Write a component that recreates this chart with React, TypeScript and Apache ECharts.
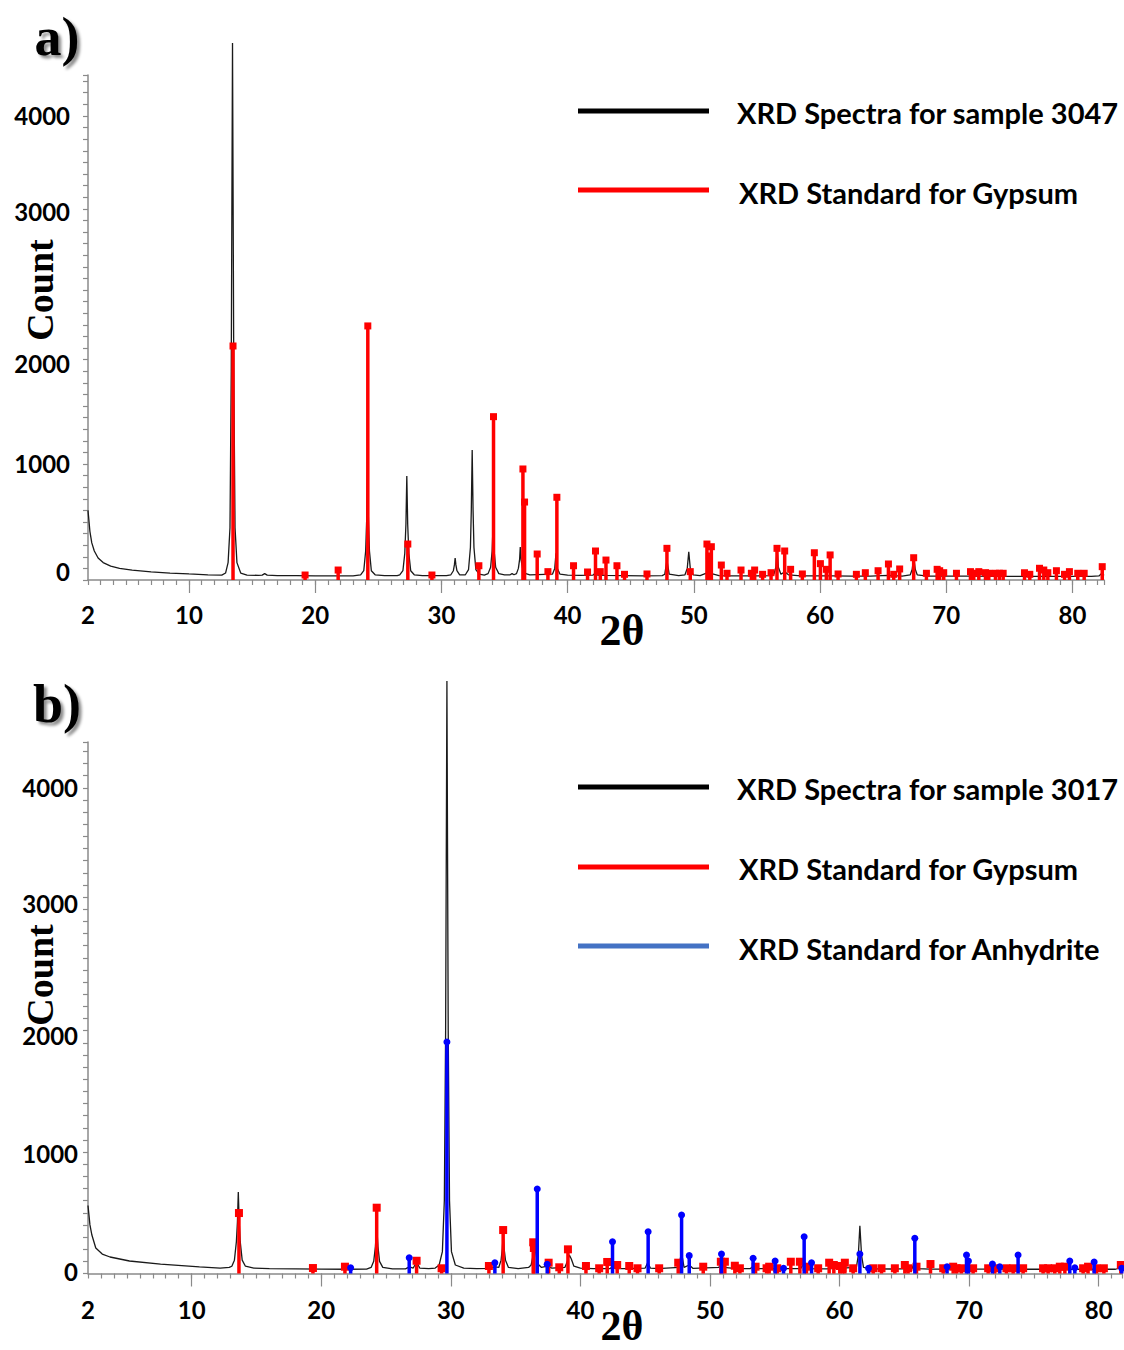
import React, { useEffect, useRef } from "react";
import * as echarts from "echarts";

type P = [number, number];

// ---- axis labels ----
const X_LABELS = [2, 10, 20, 30, 40, 50, 60, 70, 80];
const X_MAJOR = [10, 20, 30, 40, 50, 60, 70, 80];
const Y_LABELS = [0, 1000, 2000, 3000, 4000];

// ---- panel a) ----
const sampleA: P[] = [
  [2.0, 600], [2.15, 420], [2.3, 320], [2.5, 250], [2.8, 190], [3.2, 150], [3.8, 120], [4.5, 100], [5.5, 85], [7, 70], [8.5, 60], [10, 52], [11.5, 45], [12.6, 42],
  [12.9, 60], [13.1, 150], [13.25, 450], [13.35, 1800], [13.45, 4629], [13.55, 1800], [13.65, 450], [13.8, 150], [14.1, 60], [14.6, 42],
  [15.5, 40], [15.8, 42], [16.0, 55], [16.2, 42], [17, 38], [18.5, 37], [20, 36], [21.5, 36], [23, 36],
  [23.6, 45], [23.85, 80], [24.0, 250], [24.08, 520], [24.15, 950], [24.22, 520], [24.3, 250], [24.45, 80], [24.75, 45],
  [25.5, 38], [26.5, 38],
  [26.7, 45], [26.95, 80], [27.1, 230], [27.19, 480], [27.26, 897], [27.33, 480], [27.42, 230], [27.57, 80], [27.85, 45],
  [28.5, 38], [29.5, 37], [30.4, 38],
  [30.75, 45], [30.95, 80], [31.03, 130], [31.09, 190], [31.15, 130], [31.23, 80], [31.45, 45],
  [31.9, 45], [32.15, 90], [32.3, 280], [32.37, 600], [32.44, 1121], [32.51, 600], [32.58, 280], [32.73, 90], [33.0, 50], [33.4, 42],
  [33.7, 55], [33.9, 110], [34.02, 250], [34.1, 490], [34.18, 250], [34.3, 110], [34.55, 55],
  [35.0, 45], [35.45, 45], [35.6, 55], [35.75, 45],
  [35.95, 55], [36.1, 100], [36.2, 180], [36.25, 284], [36.32, 170], [36.45, 90], [36.7, 55], [37.0, 45],
  [38.8, 50], [38.98, 100], [39.08, 230], [39.18, 100], [39.4, 50],
  [40, 42], [41, 40], [42.0, 42], [42.2, 60], [42.4, 42], [43, 40], [44.5, 38], [46, 36], [47.5, 38],
  [47.7, 50], [47.87, 170], [48.05, 50], [48.8, 38],
  [49.3, 45], [49.48, 100], [49.6, 244], [49.72, 100], [49.95, 45], [50.5, 38],
  [51.0, 60], [51.2, 100], [51.4, 55], [52, 38], [53, 36], [54, 36], [55, 35], [56, 38],
  [56.35, 50], [56.5, 110], [56.6, 267], [56.7, 110], [56.9, 50], [57.2, 70], [57.5, 45],
  [58.5, 36], [60, 36], [61, 35], [62.5, 34], [64, 34], [65.4, 40], [66.5, 34],
  [67.15, 45], [67.3, 90], [67.42, 190], [67.55, 90], [67.7, 45], [68.5, 34],
  [70, 33], [72, 33], [74, 32], [76, 32], [78, 32], [80, 32], [81.5, 32], [82.1, 35], [82.35, 60], [82.5, 40],
];

const gypsumA: P[] = [
  [13.49, 2017], [19.2, 43], [21.82, 86], [24.17, 2190], [27.34, 310], [29.25, 43], [32.97, 123], [34.13, 1408],
  [36.46, 957], [36.59, 672], [37.59, 224], [38.44, 72], [39.15, 713], [40.47, 123], [41.58, 69], [42.21, 250],
  [42.59, 72], [43.04, 172], [43.91, 123], [44.51, 49], [46.29, 52], [47.87, 273], [49.72, 72], [51.04, 310],
  [51.23, 207], [51.39, 287], [52.18, 129], [52.63, 58], [53.74, 86], [54.56, 58], [54.82, 86], [55.45, 49],
  [56.12, 63], [56.59, 273], [57.2, 250], [57.67, 92], [58.6, 52], [59.55, 235], [60.03, 141], [60.5, 92],
  [60.8, 216], [61.43, 52], [62.88, 49], [63.59, 63], [64.6, 80], [65.42, 138], [65.84, 49], [66.31, 95],
  [67.42, 192], [68.43, 58], [69.28, 92], [69.48, 80], [69.8, 63], [70.81, 58], [71.92, 72], [72.18, 58],
  [72.58, 72], [73.11, 63], [73.37, 58], [73.9, 58], [74.21, 58], [74.51, 58], [76.2, 63], [76.62, 49],
  [77.39, 101], [77.73, 86], [78.05, 63], [78.73, 80], [79.37, 49], [79.76, 72], [80.42, 58], [80.93, 58], [82.36, 115],
];

// ---- panel b) ----
const sampleB: P[] = [
  [2.0, 560], [2.15, 400], [2.3, 317], [2.6, 210], [3.1, 160], [3.7, 136], [5.2, 103], [7.6, 78], [10.6, 54], [12.2, 45], [12.9, 50],
  [13.1, 60], [13.3, 110], [13.45, 260], [13.53, 420], [13.6, 671], [13.67, 420], [13.75, 260], [13.9, 110], [14.15, 60], [14.8, 45],
  [16, 40], [18, 38], [20, 36], [22, 35], [23.5, 36],
  [23.85, 50], [24.05, 100], [24.18, 220], [24.28, 386], [24.38, 220], [24.5, 100], [24.75, 50], [25.5, 38],
  [26.5, 38], [26.8, 55], [27.1, 45], [27.36, 95], [27.6, 45], [28.3, 40], [28.8, 45],
  [29.1, 70], [29.35, 180], [29.5, 600], [29.6, 2000], [29.7, 4880], [29.8, 2000], [29.9, 600], [30.05, 180], [30.35, 70], [31, 45], [32, 40], [33, 42], [33.4, 55],
  [33.7, 50], [33.88, 110], [33.97, 200], [34.04, 317], [34.12, 200], [34.22, 110], [34.45, 50], [35.2, 40], [36.0, 50],
  [36.2, 70], [36.35, 150], [36.45, 220], [36.55, 180], [36.7, 80], [37.0, 50], [37.44, 60], [37.8, 45],
  [38.8, 50], [39.0, 100], [39.15, 152], [39.3, 120], [39.5, 60], [40, 45], [41, 40], [42.3, 40], [42.48, 60], [42.7, 40], [43.5, 40],
  [45.0, 45], [45.2, 90], [45.4, 45], [46, 40], [47.6, 50], [47.8, 177], [48.0, 50], [48.4, 70], [48.7, 42],
  [50.7, 50], [50.9, 128], [51.1, 50], [52, 40], [53.1, 40], [53.33, 60], [53.6, 40], [55, 40], [57.0, 40], [57.27, 90], [57.5, 40], [59, 38],
  [61.3, 50], [61.45, 150], [61.57, 394], [61.7, 150], [61.85, 50], [62.5, 38], [64, 37], [65.6, 40], [65.81, 110], [66.0, 40],
  [67, 36], [69.6, 36], [69.8, 60], [70.0, 36], [72, 36], [73.6, 36], [73.78, 60], [74.0, 35], [76, 35], [78, 35], [80, 35], [81.3, 35], [81.6, 45], [81.8, 40],
];

const gypsumB: P[] = [
  [13.65, 498], [19.36, 45], [21.83, 56], [24.28, 542], [27.36, 105], [29.29, 43], [32.94, 62], [34.04, 358],
  [36.36, 257], [36.41, 210], [37.55, 89], [38.37, 51], [39.04, 199], [40.43, 62], [41.45, 43], [42.07, 95],
  [42.84, 70], [43.77, 62], [44.41, 43], [46.08, 43], [47.55, 89], [49.48, 56], [50.84, 97], [51.15, 97],
  [51.92, 64], [52.31, 43], [53.52, 56], [54.37, 43], [54.57, 56], [55.19, 43], [56.24, 97], [56.94, 97],
  [57.45, 56], [58.35, 43], [59.2, 89], [59.56, 70], [60.02, 62], [60.23, 43], [60.41, 89], [61.05, 43],
  [62.6, 43], [63.24, 43], [64.27, 43], [65.04, 70], [65.29, 43], [65.94, 56], [67.02, 78], [68.0, 43],
  [68.77, 56], [69.03, 43], [69.41, 43], [70.31, 43], [71.47, 43], [71.98, 43], [72.88, 43], [73.4, 43],
  [74.17, 43], [75.71, 43], [76.1, 43], [76.61, 43], [77.0, 56], [77.39, 56], [78.8, 43], [79.18, 56],
  [79.83, 43], [80.4, 43], [81.71, 70],
];

const anhydriteB: P[] = [
  [22.27, 48], [26.79, 130], [29.7, 1907], [33.4, 89], [36.67, 696], [37.44, 76], [42.48, 262], [45.23, 344],
  [47.81, 482], [48.4, 147], [50.89, 161], [53.33, 125], [55.03, 103], [55.68, 43], [57.27, 303], [57.84, 89],
  [61.57, 161], [62.24, 43], [65.81, 290], [68.3, 56], [69.8, 152], [69.95, 103], [71.8, 78], [72.37, 56],
  [73.78, 152], [77.77, 103], [78.16, 48], [79.65, 95], [81.78, 43],
];

const AXIS_COLOR = "#8a8a8a";
const TICK_FONT = { fontFamily: "Lato", fontWeight: "bold" as const, fontSize: 24, color: "#000" };

function stickSeries(data: P[], color: string, marker: "rect" | "circle", xi: number, yi: number, lw: number, ms: number) {
  return {
    type: "custom",
    xAxisIndex: xi,
    yAxisIndex: yi,
    data,
    encode: { x: 0, y: 1 },
    renderItem: (params: any, api: any) => {
      const x = api.value(0);
      const v = api.value(1);
      const p0 = api.coord([x, 0]);
      const p1 = api.coord([x, v]);
      const mk =
        marker === "rect"
          ? { type: "rect", shape: { x: p1[0] - ms / 2, y: p1[1] - ms / 2, width: ms, height: ms }, style: { fill: color } }
          : { type: "circle", shape: { cx: p1[0], cy: p1[1], r: ms / 2 }, style: { fill: color } };
      return {
        type: "group",
        children: [
          { type: "line", shape: { x1: p0[0], y1: p0[1], x2: p1[0], y2: p1[1] }, style: { stroke: color, lineWidth: lw } },
          mk,
        ],
      };
    },
  };
}

function xAxes(grid: number, max: number, margin: number) {
  return [
    {
      type: "value", gridIndex: grid, min: 2, max, interval: 1, position: "bottom",
      axisLine: { show: true, onZero: false, lineStyle: { color: AXIS_COLOR, width: 1.5 } },
      axisTick: { show: true, length: 5, lineStyle: { color: AXIS_COLOR, width: 1.2 } },
      axisLabel: { customValues: X_LABELS, margin, ...TICK_FONT },
      splitLine: { show: false },
    },
    {
      type: "value", gridIndex: grid, min: 2, max, position: "bottom",
      axisLine: { show: false },
      axisTick: { show: true, customValues: X_MAJOR, length: 13, lineStyle: { color: AXIS_COLOR, width: 1.2 } },
      axisLabel: { show: false },
      splitLine: { show: false },
    },
  ];
}

// the reference draws some y labels a little off their ticks; each label keeps its value,
// only its text box is nudged (positive = up, pixels)
function yAxis(grid: number, max: number, margin: number, nudge: Record<number, number>) {
  const rich: Record<string, any> = {};
  Y_LABELS.forEach((v) => {
    const n = nudge[v] || 0;
    rich["l" + v] = {
      ...TICK_FONT,
      padding: n >= 0 ? [0, 0, 2 * n, 0] : [-2 * n, 0, 0, 0],
    };
  });
  return {
    type: "value", gridIndex: grid, min: 0, max, interval: 100,
    axisLine: { show: true, lineStyle: { color: AXIS_COLOR, width: 1.5 } },
    axisTick: { show: true, length: 5, lineStyle: { color: AXIS_COLOR, width: 1.2 } },
    axisLabel: {
      customValues: Y_LABELS, margin, ...TICK_FONT,
      formatter: (v: number) => `{l${Math.round(v)}|${Math.round(v)}}`,
      rich,
    },
    splitLine: { show: false },
  };
}

function serifText(text: string, x: number, y: number, size: number, rot = 0, shadow = false) {
  return {
    type: "text", x, y, rotation: rot, z: 10,
    style: {
      text, fill: "#000", font: `bold ${size}px "Liberation Serif", "DejaVu Serif", serif`,
      textAlign: "center", textVerticalAlign: "middle",
      ...(shadow ? { textShadowColor: "rgba(0,0,0,0.45)", textShadowBlur: 3, textShadowOffsetX: 3, textShadowOffsetY: 3 } : {}),
    },
  };
}

function legendItem(y: number, ty: number, tx: number, color: string, label: string) {
  return [
    { type: "line", shape: { x1: 578, y1: y, x2: 709, y2: y }, style: { stroke: color, lineWidth: 5 }, z: 10 },
    { type: "text", x: tx, y: ty, z: 10, style: { text: label, fill: "#000", font: 'bold 29px Lato, "Open Sans", sans-serif', textAlign: "left", textVerticalAlign: "middle" } },
  ];
}

export default function App() {
  const ref = useRef<HTMLDivElement>(null);
  useEffect(() => {
    document.body.style.margin = "0";
    const chart = echarts.init(ref.current!, null, { renderer: "svg" });
    const option = {
      animation: false,
      backgroundColor: "#fff",
      grid: [
        { left: 88, top: 75, width: 1016, height: 505 },
        { left: 88, top: 742, width: 1034, height: 531.5 },
      ],
      xAxis: [...xAxes(0, 82.5, 22), ...xAxes(1, 81.8, 24)],
      yAxis: [
        yAxis(0, 4353, 18, { 0: 9, 1000: 0, 2000: -16, 3000: 20, 4000: 0 }),
        yAxis(1, 4378, 10, { 0: 2, 1000: -1, 2000: -5, 3000: 6, 4000: 0 }),
      ],
      series: [
        { type: "line", xAxisIndex: 0, yAxisIndex: 0, data: sampleA, showSymbol: false, clip: false, lineStyle: { color: "#1a1a1a", width: 1.3 }, z: 2 },
        { ...stickSeries(gypsumA, "#ff0000", "rect", 0, 0, 3.5, 7), z: 3 },
        { type: "line", xAxisIndex: 2, yAxisIndex: 1, data: sampleB, showSymbol: false, clip: false, lineStyle: { color: "#1a1a1a", width: 1.3 }, z: 2 },
        { ...stickSeries(gypsumB, "#ff0000", "rect", 2, 1, 3.5, 8), z: 3 },
        { ...stickSeries(anhydriteB, "#0000ff", "circle", 2, 1, 3.5, 7), z: 4 },
      ],
      graphic: [
        serifText("a)", 57, 37, 54, 0, true),
        serifText("b)", 57, 704, 54, 0, true),
        serifText("Count", 40, 290, 38, Math.PI / 2),
        serifText("Count", 40, 975, 38, Math.PI / 2),
        serifText("2θ", 622, 630, 44),
        serifText("2θ", 622, 1326, 42),
        ...legendItem(111, 112, 737, "#000000", "XRD Spectra for sample 3047"),
        ...legendItem(190, 192, 739, "#ff0000", "XRD Standard for Gypsum"),
        ...legendItem(787, 788, 737, "#000000", "XRD Spectra for sample 3017"),
        ...legendItem(867, 868, 739, "#ff0000", "XRD Standard for Gypsum"),
        ...legendItem(946, 948, 739, "#4472c4", "XRD Standard for Anhydrite"),
      ],
    };
    chart.setOption(option as any);
    return () => chart.dispose();
  }, []);
  return <div ref={ref} style={{ width: 1124, height: 1350 }} />;
}
